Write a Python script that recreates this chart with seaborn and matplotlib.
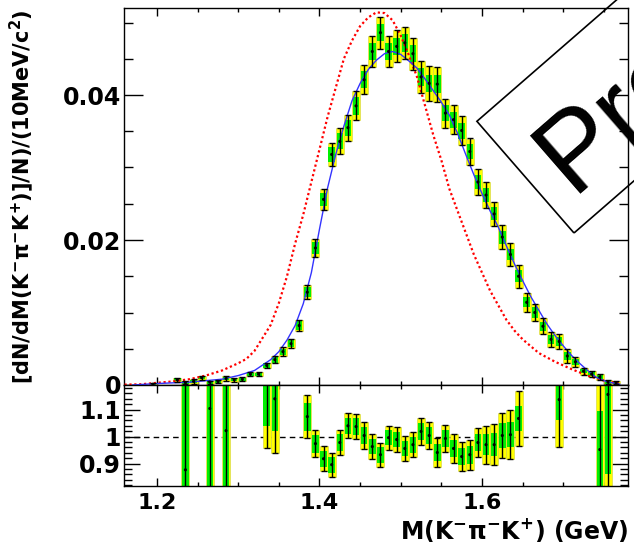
import numpy as np
import matplotlib
matplotlib.use("Agg")
import matplotlib.pyplot as plt
import seaborn as sns
from matplotlib.patches import Rectangle
from matplotlib.transforms import IdentityTransform
from matplotlib.ticker import MultipleLocator, FuncFormatter

# measured spectrum (bin centres in GeV)
mass = [1.195, 1.225, 1.235, 1.245, 1.255, 1.265, 1.275, 1.285, 1.295, 1.305,
        1.315, 1.325, 1.335, 1.345, 1.355, 1.365, 1.375, 1.385, 1.395, 1.405,
        1.415, 1.425, 1.435, 1.445, 1.455, 1.465, 1.475, 1.485, 1.495, 1.505,
        1.515, 1.525, 1.535, 1.545, 1.555, 1.565, 1.575, 1.585, 1.595, 1.605,
        1.615, 1.625, 1.635, 1.645, 1.655, 1.665, 1.675, 1.685, 1.695, 1.705,
        1.715, 1.725, 1.735, 1.745, 1.755, 1.765]
dndm = [0.0001, 0.0007, 0.0003, 0.0005, 0.0010, 0.0004, 0.0005, 0.0009, 0.0007, 0.0008,
        0.0015, 0.0015, 0.0027, 0.0035, 0.0046, 0.0057, 0.0082, 0.0128, 0.0189, 0.0256,
        0.0318, 0.0336, 0.0355, 0.0385, 0.0421, 0.0460, 0.0486, 0.0460, 0.0467, 0.0472,
        0.0457, 0.0425, 0.0416, 0.0415, 0.0375, 0.0366, 0.0351, 0.0322, 0.0280, 0.0262,
        0.0236, 0.0204, 0.0180, 0.0150, 0.0114, 0.0100, 0.0081, 0.0063, 0.0060, 0.0040,
        0.0032, 0.0019, 0.0015, 0.0011, 0.0004, 0.0003]
err_outer = [0.0002, 0.0003, 0.0002, 0.0003, 0.0003, 0.0002, 0.0002, 0.0003, 0.0003, 0.0003,
             0.0003, 0.0003, 0.0004, 0.0005, 0.0006, 0.0006, 0.0008, 0.0010, 0.0012, 0.0014,
             0.0016, 0.0018, 0.0018, 0.0020, 0.0020, 0.0022, 0.0022, 0.0022, 0.0022, 0.0022,
             0.0022, 0.0022, 0.0024, 0.0024, 0.0020, 0.0020, 0.0020, 0.0018, 0.0018, 0.0018,
             0.0017, 0.0016, 0.0016, 0.0016, 0.0013, 0.0012, 0.0011, 0.0010, 0.0010, 0.0009,
             0.0007, 0.0005, 0.0004, 0.0004, 0.0003, 0.0002]
err_inner = [0.0001, 0.0002, 0.0002, 0.0002, 0.0002, 0.0002, 0.0002, 0.0002, 0.0002, 0.0002,
             0.0002, 0.0002, 0.0003, 0.0004, 0.0004, 0.0005, 0.0006, 0.0007, 0.0008, 0.0009,
             0.0010, 0.0011, 0.0011, 0.0012, 0.0012, 0.0012, 0.0012, 0.0012, 0.0012, 0.0012,
             0.0012, 0.0012, 0.0012, 0.0012, 0.0011, 0.0011, 0.0011, 0.0010, 0.0010, 0.0010,
             0.0009, 0.0009, 0.0008, 0.0008, 0.0007, 0.0007, 0.0006, 0.0006, 0.0006, 0.0005,
             0.0004, 0.0003, 0.0003, 0.0003, 0.0002, 0.0002]

# ratio panel
ratio_mass = [1.235, 1.265, 1.285, 1.335, 1.345, 1.385, 1.395, 1.405, 1.415, 1.425,
              1.435, 1.445, 1.455, 1.465, 1.475, 1.485, 1.495, 1.505, 1.515, 1.525,
              1.535, 1.545, 1.555, 1.565, 1.575, 1.585, 1.595, 1.605, 1.615, 1.625,
              1.635, 1.645, 1.695, 1.745, 1.755]
ratio = [0.877, 1.104, 1.022, 1.220, 1.140, 1.074, 0.974, 0.918, 0.896, 0.978,
         1.040, 1.037, 1.004, 0.963, 0.933, 0.996, 0.989, 0.956, 0.970, 1.019,
         1.004, 0.941, 0.993, 0.956, 0.926, 0.933, 0.978, 0.970, 0.970, 1.004,
         1.007, 1.067, 1.137, 0.952, 1.156]
ratio_err_outer = [0.50, 0.50, 0.50, 0.264, 0.20, 0.080, 0.050, 0.046, 0.044, 0.048,
                   0.046, 0.046, 0.049, 0.045, 0.045, 0.045, 0.045, 0.045, 0.047, 0.050,
                   0.050, 0.055, 0.050, 0.055, 0.055, 0.055, 0.055, 0.070, 0.075, 0.085,
                   0.090, 0.103, 0.177, 0.35, 0.40]
ratio_err_inner = [0.50, 0.50, 0.50, 0.18, 0.12, 0.052, 0.033, 0.030, 0.030, 0.031,
                   0.030, 0.030, 0.031, 0.029, 0.029, 0.029, 0.029, 0.029, 0.030, 0.031,
                   0.031, 0.033, 0.031, 0.033, 0.033, 0.033, 0.033, 0.040, 0.042, 0.045,
                   0.047, 0.048, 0.077, 0.144, 0.296]

# fit (blue) and model (red dotted) curves
fit_mass = [1.17, 1.20, 1.24, 1.28, 1.30, 1.32, 1.34, 1.35, 1.36, 1.37, 1.38, 1.39,
            1.40, 1.41, 1.42, 1.43, 1.44, 1.45, 1.46, 1.47, 1.48, 1.49, 1.50, 1.51,
            1.52, 1.53, 1.54, 1.55, 1.56, 1.57, 1.58, 1.59, 1.60, 1.61, 1.62, 1.63,
            1.64, 1.65, 1.66, 1.67, 1.68, 1.69, 1.70, 1.71, 1.72, 1.73, 1.74, 1.75,
            1.76, 1.77]
fit_val = [0.0000, 0.0002, 0.0004, 0.0008, 0.0013, 0.0020, 0.0035, 0.0046, 0.0062, 0.0082,
           0.0112, 0.0155, 0.0215, 0.0272, 0.0318, 0.0357, 0.0392, 0.0416, 0.0435, 0.0448,
           0.0457, 0.0460, 0.0456, 0.0447, 0.0437, 0.0422, 0.0406, 0.0390, 0.0372, 0.0347,
           0.0318, 0.0290, 0.0264, 0.0240, 0.0218, 0.0192, 0.0167, 0.0144, 0.0122, 0.0103,
           0.0084, 0.0068, 0.0054, 0.0041, 0.0030, 0.0020, 0.0011, 0.0006, 0.0003, 0.0001]
model_mass = [1.16, 1.18, 1.20, 1.22, 1.24, 1.26, 1.28, 1.30, 1.31, 1.32, 1.33, 1.34,
              1.35, 1.36, 1.37, 1.38, 1.39, 1.40, 1.41, 1.42, 1.43, 1.44, 1.45, 1.46,
              1.47, 1.48, 1.49, 1.50, 1.51, 1.52, 1.53, 1.54, 1.55, 1.56, 1.57, 1.58,
              1.59, 1.60, 1.61, 1.62, 1.63, 1.64, 1.65, 1.67, 1.69, 1.71, 1.73, 1.75,
              1.77]
model_val = [0.00005, 0.0001, 0.0003, 0.0005, 0.0008, 0.0013, 0.0020, 0.0030, 0.0036, 0.0047,
             0.0065, 0.0083, 0.0113, 0.0150, 0.0195, 0.0235, 0.0280, 0.0325, 0.0370, 0.0410,
             0.0450, 0.0475, 0.0495, 0.0507, 0.0514, 0.0513, 0.0503, 0.0482, 0.0455, 0.0425,
             0.0385, 0.0345, 0.0310, 0.0270, 0.0240, 0.0210, 0.0180, 0.0155, 0.0130, 0.0110,
             0.0090, 0.0075, 0.0063, 0.0044, 0.0032, 0.0022, 0.0013, 0.0006, 0.0002]

sns.set_theme(style="ticks")
plt.rcParams['font.family'] = ['DejaVu Sans']
plt.rcParams['font.weight'] = 'bold'
plt.rcParams['mathtext.default'] = 'bf'
for key in ('text.color', 'axes.labelcolor', 'xtick.color', 'ytick.color', 'axes.edgecolor'):
    plt.rcParams[key] = 'black'

W, H = 634, 549
fig = plt.figure(figsize=(W / 100, H / 100), dpi=100)
ax1 = fig.add_axes([124 / W, (H - 385) / H, 504 / W, 377 / H])
ax2 = fig.add_axes([124 / W, (H - 486) / H, 504 / W, 101 / H])


def draw_points(ax, x, y, e_out, e_in):
    x, y = np.asarray(x), np.asarray(y)
    e_out, e_in = np.asarray(e_out), np.asarray(e_in)
    ax.bar(x, 2 * e_out, bottom=y - e_out, width=0.0098, color='#ffff00',
           edgecolor='#d0d040', linewidth=0.4, zorder=1)
    ax.bar(x, 2 * e_in, bottom=y - e_in, width=0.0080, color='#00f000',
           edgecolor='none', zorder=2)
    ax.errorbar(x, y, yerr=e_out, fmt='none', ecolor='black', elinewidth=1.0,
                capsize=2.5, capthick=1.0, zorder=4)
    sns.scatterplot(x=x, y=y, ax=ax, color='black', s=5, edgecolor='none',
                    legend=False, zorder=5)


draw_points(ax1, mass, dndm, err_outer, err_inner)
sns.lineplot(x=model_mass, y=model_val, ax=ax1, color='red', linestyle=(0, (1, 1.2)),
             linewidth=1.6, zorder=3)
sns.lineplot(x=fit_mass, y=fit_val, ax=ax1, color='#3333ff', linewidth=1.0, zorder=3)

draw_points(ax2, ratio_mass, ratio, ratio_err_outer, ratio_err_inner)
ax2.axhline(1.0, color='black', linestyle=(0, (4, 3)), linewidth=1.0, zorder=0.5)

for ax in (ax1, ax2):
    ax.set_xlim(1.1594, 1.7797)
    ax.xaxis.set_major_locator(MultipleLocator(0.2))
    ax.xaxis.set_minor_locator(MultipleLocator(0.05))
    ax.tick_params(which='both', direction='in', top=True, right=True,
                   colors='black', width=1.0)
    ax.set_xlabel('')
    ax.set_ylabel('')
    for sp in ax.spines.values():
        sp.set_visible(True)
        sp.set_color('black')
        sp.set_linewidth(1.0)

ax1.set_ylim(0, 0.052)
ax1.yaxis.set_major_locator(MultipleLocator(0.02))
ax1.yaxis.set_minor_locator(MultipleLocator(0.005))
ax1.yaxis.set_major_formatter(FuncFormatter(lambda v, p: '0' if abs(v) < 1e-9 else f'{v:.2f}'))
ax1.tick_params(axis='x', which='major', length=6, labelbottom=False)
ax1.tick_params(axis='x', which='minor', length=3)
ax1.tick_params(axis='y', which='major', length=13.5, labelsize=17, pad=2)
ax1.tick_params(axis='y', which='minor', length=6.5)

ax2.set_ylim(0.817, 1.191)
ax2.yaxis.set_major_locator(MultipleLocator(0.1))
ax2.yaxis.set_minor_locator(MultipleLocator(0.02))
ax2.yaxis.set_major_formatter(FuncFormatter(lambda v, p: '1' if abs(v - 1) < 1e-9 else f'{v:.1f}'))
ax2.xaxis.set_major_formatter(FuncFormatter(lambda v, p: f'{v:.1f}'))
ax2.tick_params(axis='x', which='major', length=6, labelsize=16, pad=5)
ax2.tick_params(axis='x', which='minor', length=3)
ax2.tick_params(axis='y', which='major', length=11.5, labelsize=17, pad=2)
ax2.tick_params(axis='y', which='minor', length=5.5)

fig.text(22 / W, (H - 384) / H,
         '[dN/dM(K$^{-}$π$^{-}$K$^{+}$)]/N)/(10MeV/c$^{2}$)',
         rotation=90, ha='center', va='bottom', fontsize=15, color='black')
fig.text(628 / W, (H - 530) / H, 'M(K$^{-}$π$^{-}$K$^{+}$) (GeV)',
         ha='right', va='center', fontsize=17, color='black')

# "Preliminary" stamp, mostly outside the canvas
fig.add_artist(Rectangle((574, H - 233), 700, 148, angle=41, fill=False,
                         edgecolor='black', linewidth=1.2,
                         transform=IdentityTransform()))
fig.text(572, H - 194, 'Preliminary', transform=IdentityTransform(),
         rotation=41, rotation_mode='anchor', ha='left', va='baseline',
         fontsize=80, fontweight='normal', family='Liberation Sans', color='black')

fig.savefig('out.png', dpi=100)
